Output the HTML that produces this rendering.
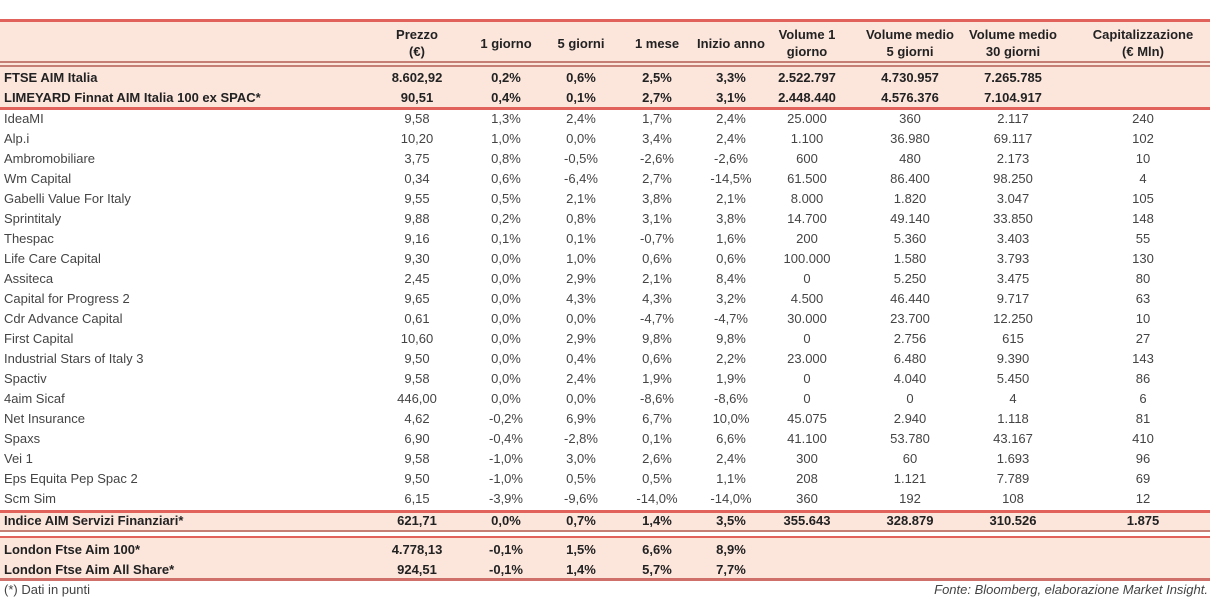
<!DOCTYPE html>
<html><head><meta charset="utf-8"><style>
body{margin:0;width:1210px;height:601px;background:#fff;font-family:"Liberation Sans","DejaVu Sans",sans-serif;color:#444;position:relative;overflow:hidden}
.band{position:absolute;left:0;width:1210px;background:#fce6dc}
.ln{position:absolute;left:0;width:1210px}
.r{position:absolute;left:0;width:1210px;height:20px;line-height:20px;font-size:13px}
.r span{position:absolute;top:0;transform:translateX(-50%);white-space:nowrap}
.r span.n{left:4px;transform:none}
.b{font-weight:bold;color:#222}
.h{position:absolute;font-size:13px;font-weight:bold;text-align:center;line-height:17px;transform:translateX(-50%);white-space:nowrap;color:#222}
.foot{position:absolute;top:582px;font-size:13px;color:#444}
</style></head><body>
<div class="band" style="top:21px;height:41px"></div>
<div class="ln" style="top:19px;height:3px;background:#e0625a"></div>
<div class="ln" style="top:61px;height:2px;background:#c57f74"></div>
<div class="band" style="top:63px;height:45px"></div>
<div class="ln" style="top:65px;height:2px;background:#c57f74"></div>
<div class="ln" style="top:107px;height:3px;background:#e0625a"></div>
<div class="band" style="top:510px;height:21px"></div>
<div class="ln" style="top:510px;height:3px;background:#e0625a"></div>
<div class="ln" style="top:530px;height:2px;background:#c57f74"></div>
<div class="band" style="top:536px;height:43px"></div>
<div class="ln" style="top:536px;height:2px;background:#e0625a"></div>
<div class="ln" style="top:578px;height:3px;background:#d0706a"></div>

<div class="h" style="left:417px;top:26px">Prezzo<br>(€)</div>
<div class="h" style="left:506px;top:35px">1 giorno</div>
<div class="h" style="left:581px;top:35px">5 giorni</div>
<div class="h" style="left:657px;top:35px">1 mese</div>
<div class="h" style="left:731px;top:35px">Inizio anno</div>
<div class="h" style="left:807px;top:26px">Volume 1<br>giorno</div>
<div class="h" style="left:910px;top:26px">Volume medio<br>5 giorni</div>
<div class="h" style="left:1013px;top:26px">Volume medio<br>30 giorni</div>
<div class="h" style="left:1143px;top:26px">Capitalizzazione<br>(€ Mln)</div>

<div class="foot" style="left:4px">(*) Dati in punti</div>
<div class="foot" style="right:2px;font-style:italic">Fonte: Bloomberg, elaborazione Market Insight.</div>

<script>
const colX=[417,506,581,657,731,807,910,1013,1143];
const boldTop=[
["FTSE AIM Italia","8.602,92","0,2%","0,6%","2,5%","3,3%","2.522.797","4.730.957","7.265.785",""],
["LIMEYARD Finnat AIM Italia 100 ex SPAC*","90,51","0,4%","0,1%","2,7%","3,1%","2.448.440","4.576.376","7.104.917",""]];
const stocks=[
["IdeaMI","9,58","1,3%","2,4%","1,7%","2,4%","25.000","360","2.117","240"],
["Alp.i","10,20","1,0%","0,0%","3,4%","2,4%","1.100","36.980","69.117","102"],
["Ambromobiliare","3,75","0,8%","-0,5%","-2,6%","-2,6%","600","480","2.173","10"],
["Wm Capital","0,34","0,6%","-6,4%","2,7%","-14,5%","61.500","86.400","98.250","4"],
["Gabelli Value For Italy","9,55","0,5%","2,1%","3,8%","2,1%","8.000","1.820","3.047","105"],
["Sprintitaly","9,88","0,2%","0,8%","3,1%","3,8%","14.700","49.140","33.850","148"],
["Thespac","9,16","0,1%","0,1%","-0,7%","1,6%","200","5.360","3.403","55"],
["Life Care Capital","9,30","0,0%","1,0%","0,6%","0,6%","100.000","1.580","3.793","130"],
["Assiteca","2,45","0,0%","2,9%","2,1%","8,4%","0","5.250","3.475","80"],
["Capital for Progress 2","9,65","0,0%","4,3%","4,3%","3,2%","4.500","46.440","9.717","63"],
["Cdr Advance Capital","0,61","0,0%","0,0%","-4,7%","-4,7%","30.000","23.700","12.250","10"],
["First Capital","10,60","0,0%","2,9%","9,8%","9,8%","0","2.756","615","27"],
["Industrial Stars of Italy 3","9,50","0,0%","0,4%","0,6%","2,2%","23.000","6.480","9.390","143"],
["Spactiv","9,58","0,0%","2,4%","1,9%","1,9%","0","4.040","5.450","86"],
["4aim Sicaf","446,00","0,0%","0,0%","-8,6%","-8,6%","0","0","4","6"],
["Net Insurance","4,62","-0,2%","6,9%","6,7%","10,0%","45.075","2.940","1.118","81"],
["Spaxs","6,90","-0,4%","-2,8%","0,1%","6,6%","41.100","53.780","43.167","410"],
["Vei 1","9,58","-1,0%","3,0%","2,6%","2,4%","300","60","1.693","96"],
["Eps Equita Pep Spac 2","9,50","-1,0%","0,5%","0,5%","1,1%","208","1.121","7.789","69"],
["Scm Sim","6,15","-3,9%","-9,6%","-14,0%","-14,0%","360","192","108","12"]];
const sector=[["Indice AIM Servizi Finanziari*","621,71","0,0%","0,7%","1,4%","3,5%","355.643","328.879","310.526","1.875"]];
const london=[
["London Ftse Aim 100*","4.778,13","-0,1%","1,5%","6,6%","8,9%","","","",""],
["London Ftse Aim All Share*","924,51","-0,1%","1,4%","5,7%","7,7%","","","",""]];
function addRow(d,top,bold){
  const r=document.createElement('div');
  r.className='r'+(bold?' b':'');
  r.style.top=top+'px';
  
  
  const n=document.createElement('span');n.className='n';n.textContent=d[0];
  
  
  r.appendChild(n);
  for(let i=1;i<d.length;i++){ if(!d[i])continue;
    const s=document.createElement('span');s.style.left=colX[i-1]+'px';s.textContent=d[i];
    
    
    r.appendChild(s);}
  document.body.appendChild(r);
}
boldTop.forEach((d,i)=>addRow(d,68+i*20,true));
stocks.forEach((d,i)=>addRow(d,109+i*20,false));
sector.forEach((d,i)=>addRow(d,511,true));
london.forEach((d,i)=>addRow(d,540+i*20,true));
</script>
</body></html>
